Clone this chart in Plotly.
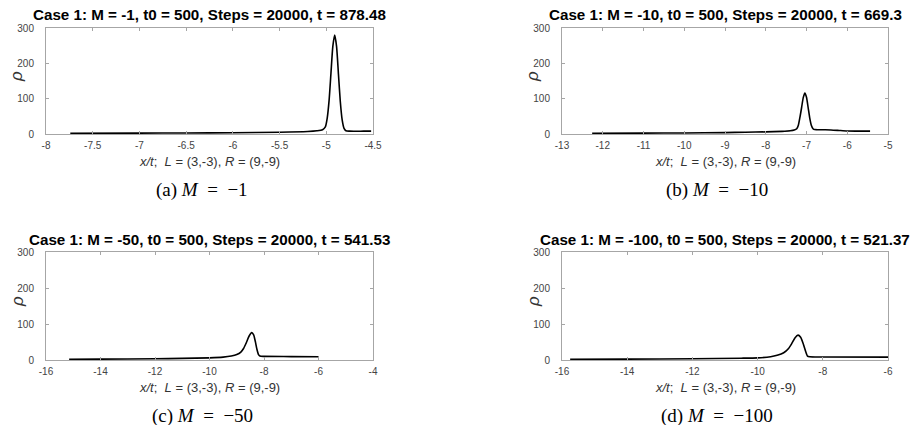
import plotly.graph_objects as go

W, H = 914, 425

# ---- data ----
xa = [-7.74, -7.0, -6.5, -6.0, -5.5, -5.2, -5.1, -5.04, -5.01, -4.99, -4.97, -4.95, -4.93, -4.91,
      -4.89, -4.87, -4.85, -4.83, -4.81, -4.79, -4.75, -4.6, -4.52]
ya = [2, 2.5, 3, 3.5, 5, 7, 9, 12, 20, 45, 95, 172, 248, 280,
      248, 170, 92, 40, 16, 9, 8, 8, 8]

xb = [-12.26, -11.0, -10.0, -9.0, -8.5, -8.0, -7.6, -7.4, -7.3, -7.24, -7.2, -7.16, -7.12, -7.08,
      -7.04, -7.0, -6.96, -6.92, -6.88, -6.84, -6.8, -6.6, -6.4, -6.2, -6.0, -5.8, -5.44]
yb = [2, 2.5, 3, 4, 5, 6, 7.5, 9, 11, 15, 25, 48, 75, 103,
      116, 104, 75, 45, 24, 15, 12.5, 12, 11.5, 10, 8.5, 8, 8]

xc = [-15.15, -14.0, -12.0, -11.0, -10.0, -9.5, -9.2, -9.0, -8.85, -8.75, -8.65, -8.55, -8.45,
      -8.38, -8.32, -8.26, -8.2, -8.15, -8.0, -7.0, -6.0]
yc = [2, 2.5, 3.5, 4.5, 6, 8, 11, 15, 22, 32, 48, 66, 76,
      70, 52, 30, 15, 11, 10, 9.5, 9]

xd = [-15.75, -14.0, -12.0, -10.5, -10.0, -9.6, -9.4, -9.2, -9.05, -8.95, -8.85, -8.76,
      -8.68, -8.6, -8.52, -8.47, -8.4, -8.0, -6.0]
yd = [2, 2.5, 3.5, 5, 6, 9, 13, 20, 32, 46, 62, 69,
      63, 45, 22, 11, 9, 8.5, 8]

titles = ["Case 1: M = -1, t0 = 500, Steps = 20000, t = 878.48",
          "Case 1: M = -10, t0 = 500, Steps = 20000, t = 669.3",
          "Case 1: M = -50, t0 = 500, Steps = 20000, t = 541.53",
          "Case 1: M = -100, t0 = 500, Steps = 20000, t = 521.37"]
captions = ["(a) <i>M</i>  =  −1", "(b) <i>M</i>  =  −10", "(c) <i>M</i>  =  −50", "(d) <i>M</i>  =  −100"]
xranges = [(-8, -4.5), (-13, -5), (-16, -4), (-16, -6)]
xtickvals = [[-8, -7.5, -7, -6.5, -6, -5.5, -5, -4.5],
             [-13, -12, -11, -10, -9, -8, -7, -6, -5],
             [-16, -14, -12, -10, -8, -6, -4],
             [-16, -14, -12, -10, -8, -6]]
xticktext = [["-8", "-7.5", "-7", "-6.5", "-6", "-5.5", "-5", "-4.5"],
             ["-13", "-12", "-11", "-10", "-9", "-8", "-7", "-6", "-5"],
             ["-16", "-14", "-12", "-10", "-8", "-6", "-4"],
             ["-16", "-14", "-12", "-10", "-8", "-6"]]
ytickvals = [0, 100, 200, 300]

series = [(xa, ya), (xb, yb), (xc, yc), (xd, yd)]

# ---- layout in pixels ----
px_x = [(46, 373), (562, 888), (46, 373), (562, 888)]
px_y = [(28, 134), (28, 134), (252, 360), (252, 360)]
title_y = [15, 15, 239, 239]
xlabel_y = [161, 161, 387, 387]
cap_y = [190, 190, 416, 416]
cap_x = [202, 717, 202, 717]

fig = go.Figure()
annotations = []
for i, (xs, ys) in enumerate(series):
    n = "" if i == 0 else str(i + 1)
    fig.add_trace(go.Scatter(x=xs, y=ys, mode="lines",
                             line=dict(color="black", width=1.6, shape="spline", smoothing=0.6),
                             xaxis="x" + n, yaxis="y" + n, showlegend=False, hoverinfo="skip"))
    x0, x1 = px_x[i]
    y0, y1 = px_y[i]
    axcommon = dict(showline=True, linecolor="#a6a6a6", linewidth=1, mirror="ticks", ticks="inside",
                    ticklen=3, tickcolor="#a6a6a6", showgrid=False, zeroline=False, automargin=False,
                    tickfont=dict(family="Arial", size=10, color="#444"))
    fig.update_layout(**{
        "xaxis" + n: dict(domain=[x0 / W, x1 / W], range=list(xranges[i]), tickvals=xtickvals[i],
                          ticktext=xticktext[i], anchor="y" + n, ticklabelstandoff=2, **axcommon),
        "yaxis" + n: dict(domain=[1 - y1 / H, 1 - y0 / H], range=[0, 300], tickvals=ytickvals,
                          anchor="x" + n, ticklabelstandoff=9, **axcommon),
    })
    cx = (x0 + x1) / 2
    annotations.append(dict(text="<b>" + titles[i] + "</b>", x=cx / W, y=1 - title_y[i] / H,
                            xref="paper", yref="paper", showarrow=False, xanchor="center", yanchor="middle",
                            font=dict(family="Arial", size=15.2, color="black")))
    annotations.append(dict(text="<i>x/t</i>;  <i>L</i> = (3,-3), <i>R</i> = (9,-9)", x=cx / W,
                            y=1 - xlabel_y[i] / H, xref="paper", yref="paper", showarrow=False,
                            xanchor="center", yanchor="middle",
                            font=dict(family="Arial", size=13, color="#333")))
    annotations.append(dict(text="<i>ρ</i>", x=(x0 - 29) / W,
                            y=1 - ((y0 + y1) / 2 - 4) / H,
                            xref="paper", yref="paper", showarrow=False, textangle=-90,
                            xanchor="center", yanchor="middle",
                            font=dict(family="Arial", size=17, color="#333")))
    annotations.append(dict(text=captions[i], x=cap_x[i] / W, y=1 - cap_y[i] / H,
                            xref="paper", yref="paper", showarrow=False, xanchor="center", yanchor="middle",
                            font=dict(family="Liberation Serif", size=19, color="black")))

fig.update_layout(width=W, height=H, margin=dict(l=0, r=0, t=0, b=0), paper_bgcolor="white",
                  plot_bgcolor="white", annotations=annotations)
fig.write_html("out.html")
